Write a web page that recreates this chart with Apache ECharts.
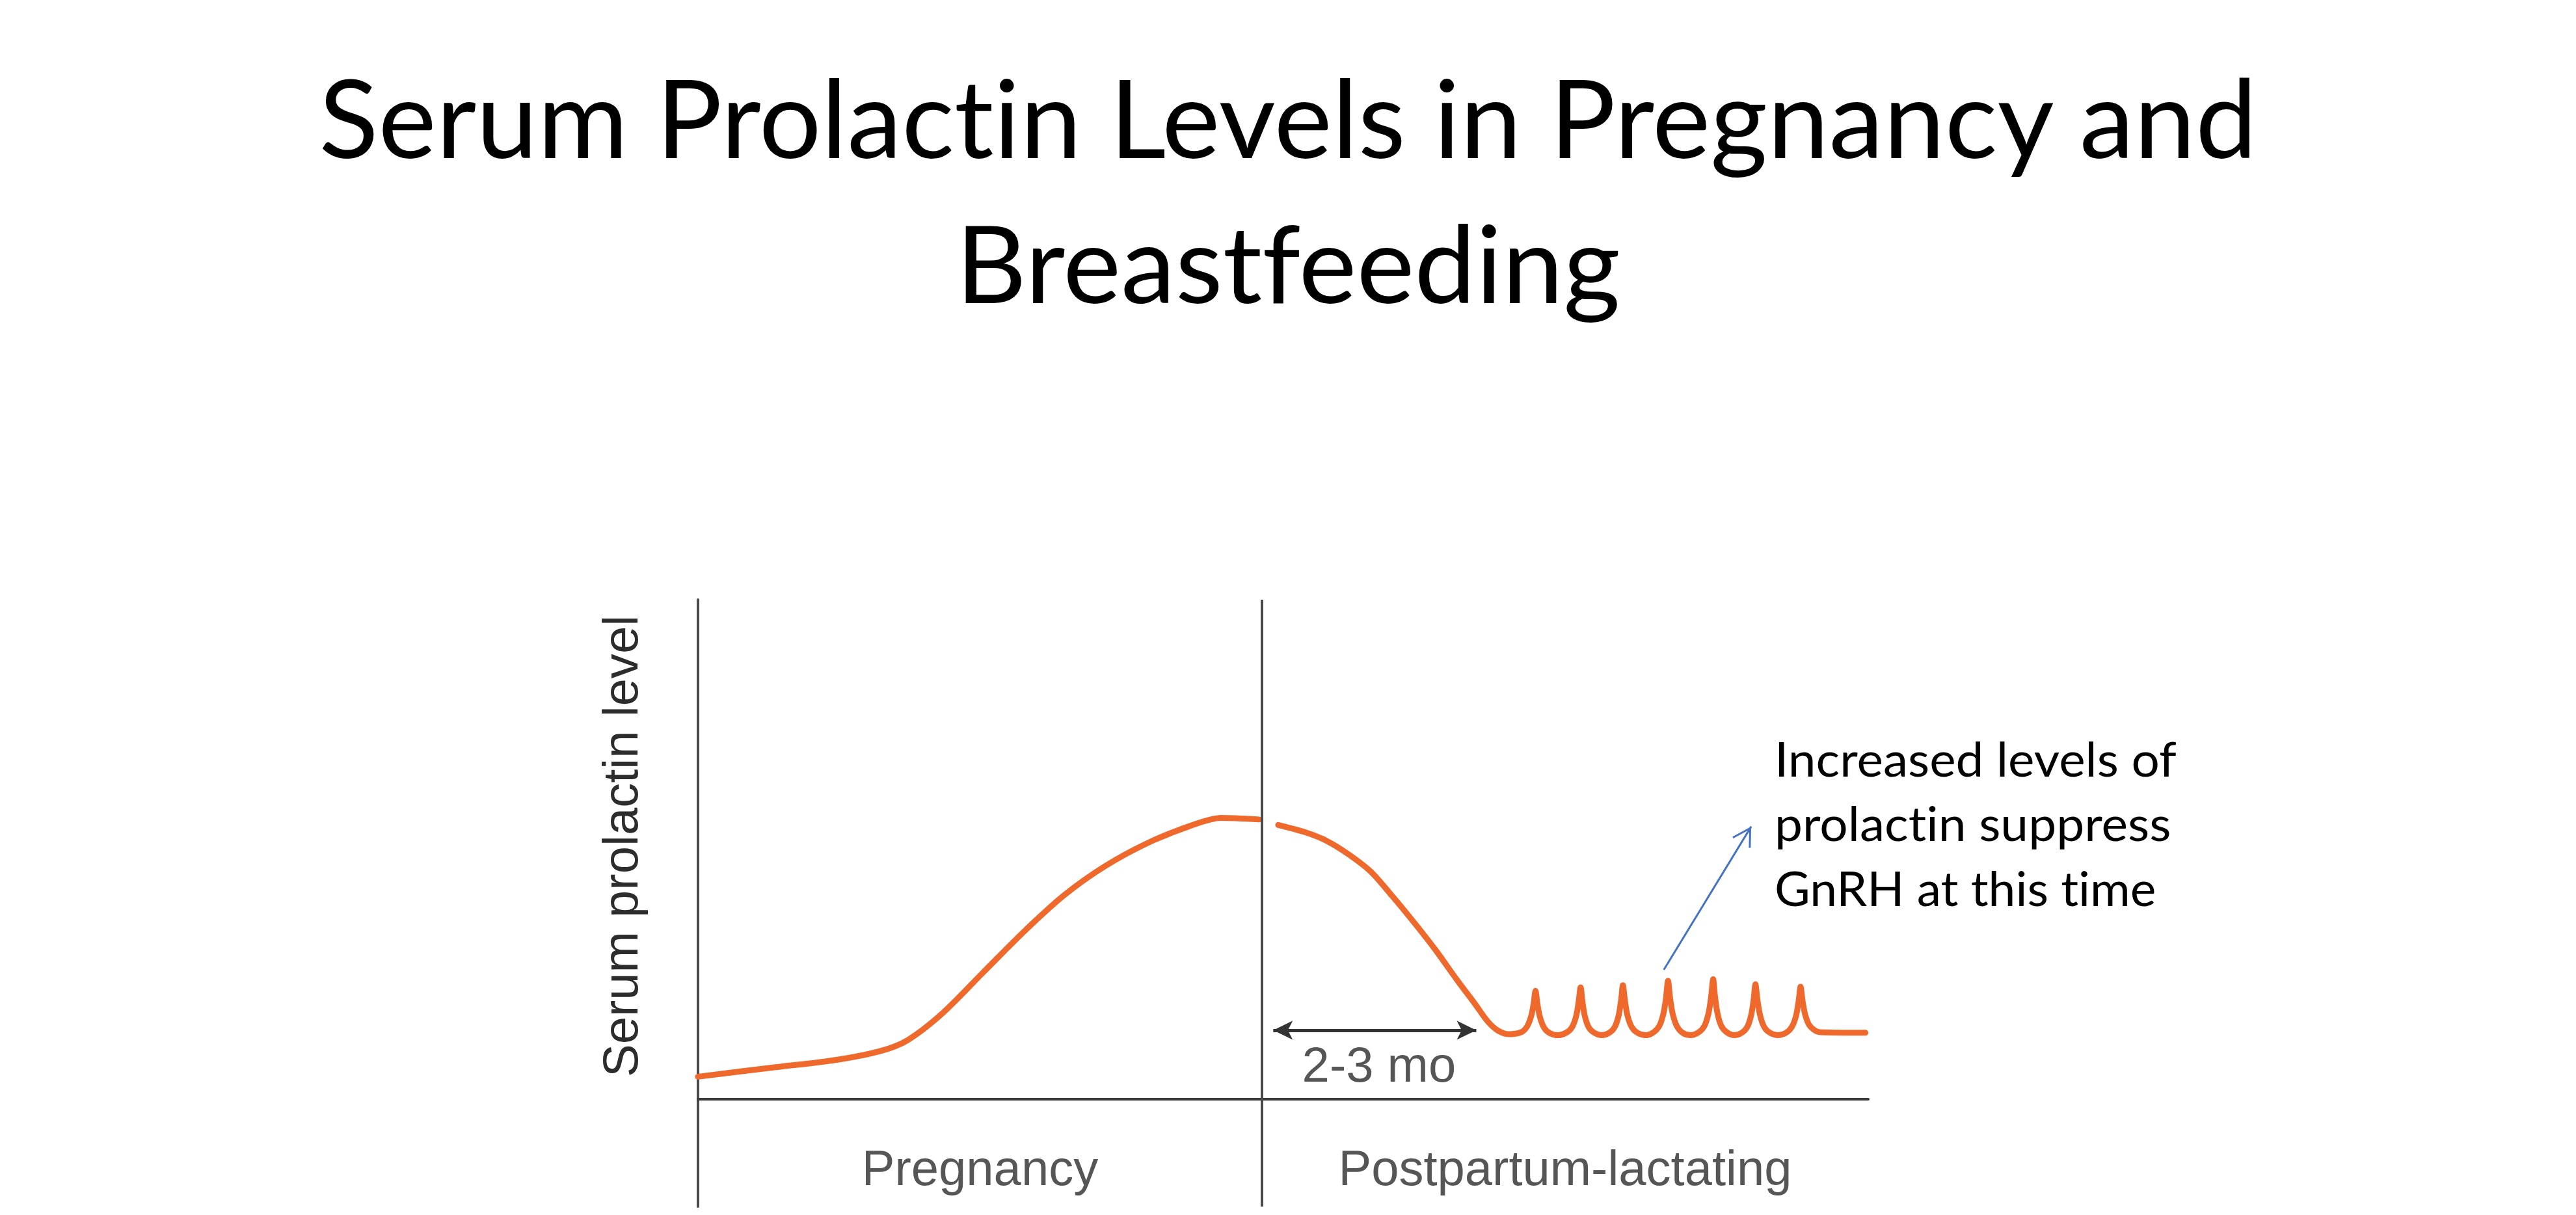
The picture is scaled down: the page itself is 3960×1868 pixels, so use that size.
<!DOCTYPE html>
<html><head><meta charset="utf-8">
<script src="https://cdn.jsdelivr.net/npm/echarts@6/dist/echarts.min.js"></script>
<style>
html,body{margin:0;padding:0;background:#fff}
#c{width:3960px;height:1868px}
#c text, #c tspan{font-variant-ligatures:none !important;font-feature-settings:"liga" 0,"clig" 0,"dlig" 0 !important}
</style>
</head><body><div id="c"></div>
<script>
// ---- text ----
const titleLines = ['Serum Prolactin Levels in Pregnancy and', 'Breastfeeding'];
const noteLines = ['Increased levels of', 'prolactin suppress', 'GnRH at this time'];
const yAxisTitle = 'Serum prolactin level';
const phaseLabels = ['Pregnancy', 'Postpartum-lactating'];
const phaseBounds = [0, 40, 83];          // weeks: start, delivery, end of plot
const intervalLabel = '2-3 mo';
const intervalLabelPos = [48.3, 6.9];
const intervalRange = [40.8, 55.2];       // weeks
const intervalLevel = 13.8;
const noteArrowFrom = [68.5, 25.9];
const noteArrowTo = [74.7, 54.6];

// ---- curves: [week] and [relative level] ----
const pregnancyX = [0, 5.5, 9.9, 12.9, 14.8, 17.3, 20.2, 23.1, 26.0, 28.9, 31.9, 34.8, 37.1, 39.8];
const pregnancyY = [4.5, 6.4, 7.9, 9.6, 11.7, 17.1, 25.3, 33.5, 40.9, 46.7, 51.3, 54.6, 56.3, 56.0];

const postpartumX = [41.15, 43.1, 44.6, 46.1, 47.7, 49.2, 50.75, 52.3, 53.85, 55.1, 56.0, 56.75, 57.5, 58.38, 58.79, 59.08, 59.26,
  59.4, 59.54, 59.72, 60.01, 60.42, 61.0, 61.58, 61.99, 62.28, 62.46,
  62.6, 62.73, 62.9, 63.17, 63.56, 64.1, 64.64, 65.03, 65.3, 65.47,
  65.6, 65.74, 65.92, 66.21, 66.62, 67.2, 67.78, 68.19, 68.48, 68.66,
  68.8, 68.94, 69.12, 69.41, 69.82, 70.4, 70.98, 71.39, 71.68, 71.86,
  72.0, 72.13, 72.3, 72.57, 72.96, 73.5, 74.04, 74.43, 74.7, 74.87,
  75.0, 75.14, 75.32, 75.61, 76.02, 76.6, 77.18, 77.59, 77.88, 78.06,
  78.2, 78.34, 78.52, 78.8, 79.2, 79.6, 82.8];
const postpartumY = [54.9, 53.4, 51.7, 49.1, 45.6, 40.8, 35.5, 29.9, 23.8, 19.1, 15.6, 13.7, 13.0, 13.4, 14.5, 16.5, 19.0,
  21.7, 19.0, 16.4, 14.3, 13.2, 12.8, 13.3, 14.4, 16.6, 19.5,
  22.4, 19.5, 16.6, 14.4, 13.3, 12.8, 13.3, 14.5, 16.8, 19.8,
  22.8, 19.8, 16.8, 14.5, 13.3, 12.8, 13.4, 14.7, 17.2, 20.4,
  23.7, 20.4, 17.2, 14.7, 13.3, 12.8, 13.4, 14.7, 17.3, 20.6,
  24.0, 20.6, 17.3, 14.7, 13.4, 12.8, 13.3, 14.5, 16.9, 19.9,
  23.0, 19.9, 16.9, 14.5, 13.3, 12.8, 13.3, 14.5, 16.7, 19.6,
  22.5, 19.7, 17.0, 14.9, 13.8, 13.4, 13.3];

// ---- helpers ----
const measureCtx = document.createElement('canvas').getContext('2d');
function fit(text, font, target) { measureCtx.font = font; return target / measureCtx.measureText(text).width; }

const TITLE_FONT = '166px Lato';
const NOTE_FONT = '74px Lato';
const FIG_FAMILY = '"Liberation Sans", Arial, sans-serif';
const FIG_FONT = '76px ' + FIG_FAMILY;
const ORANGE = '#F0692C';
const AXIS = '#4a4a4a';
const FIG_TEXT = '#2c2c2c';

function txt(text, x, y, font, fill, align, target, rot) {
  const s = target ? fit(text, font, target) : 1;
  return { type: 'text', x: x, y: y, scaleX: s, rotation: rot || 0, silent: true,
    style: { text: text, font: font, fill: fill, align: align, verticalAlign: 'middle',
             textAlign: align, textVerticalAlign: 'middle' } };
}

const graphic = [
  txt(titleLines[0], 1980, 179, TITLE_FONT, '#000', 'center', 2985),
  txt(titleLines[1], 1980, 402, TITLE_FONT, '#000', 'center', 1018),
  txt(noteLines[0], 2728, 1166, NOTE_FONT, '#000', 'left', 618),
  txt(noteLines[1], 2728, 1265, NOTE_FONT, '#000', 'left', 611),
  txt(noteLines[2], 2728, 1364, NOTE_FONT, '#000', 'left', 588),
  txt(yAxisTitle, 954, 1301, FIG_FONT, FIG_TEXT, 'center', 710, Math.PI / 2)
];

const phaseCenters = phaseLabels.map((_, i) => (phaseBounds[i] + phaseBounds[i + 1]) / 2);
const labelRow = -13.7;

const option = {
  animation: false,
  backgroundColor: '#fff',
  graphic: graphic,
  grid: { left: 1073, top: 922, width: 1799, height: 933, containLabel: false },
  xAxis: {
    type: 'value', min: phaseBounds[0], max: phaseBounds[2],
    axisLine: { show: true, onZero: true, lineStyle: { color: '#3a3a3a', width: 4 } },
    axisTick: { show: false }, axisLabel: { show: false }, splitLine: { show: false }
  },
  yAxis: {
    type: 'value', min: -21.5, max: 100,
    axisLine: { show: true, onZero: false, lineStyle: { color: AXIS, width: 4 } },
    axisTick: { show: false }, axisLabel: { show: false }, splitLine: { show: false }
  },
  series: [
    {
      type: 'line', name: 'Pregnancy', silent: true, showSymbol: false, symbol: 'none', smooth: 0.3,
      data: pregnancyX.map((x, i) => [x, pregnancyY[i]]),
      lineStyle: { color: ORANGE, width: 9, cap: 'round' },
      markLine: {
        silent: true, symbol: 'none', label: { show: false },
        lineStyle: { color: AXIS, width: 4, type: 'solid' },
        data: [{ xAxis: phaseBounds[1] }]
      }
    },
    {
      type: 'line', name: 'Postpartum', silent: true, showSymbol: false, symbol: 'none', smooth: 0.3,
      data: postpartumX.map((x, i) => [x, postpartumY[i]]),
      lineStyle: { color: ORANGE, width: 9, cap: 'round', join: 'round' },
      markLine: {
        silent: true, label: { show: false },
        data: [
          [ { coord: [intervalRange[0], intervalLevel], symbol: 'arrow', symbolSize: [22, 30],
              lineStyle: { color: '#333', width: 5, type: 'solid' } },
            { coord: [intervalRange[1], intervalLevel], symbol: 'arrow', symbolSize: [22, 30] } ],
          [ { coord: noteArrowFrom, symbol: 'none',
              lineStyle: { color: '#4472C4', width: 3, type: 'solid' } },
            { coord: noteArrowTo, symbol: 'path://M50,0 L100,86.6 L92.2,91.1 L50,18 L7.8,91.1 L0,86.6 Z M50,-91.1 L50.01,-91.1 L50,-91.05 Z',
              symbolSize: [33, 60] } ]
        ]
      }
    },
    {
      type: 'scatter', silent: true, clip: false, symbolSize: 1,
      itemStyle: { color: 'rgba(0,0,0,0)' },
      data: phaseLabels.map((t, i) => ({ name: t, value: [phaseCenters[i], labelRow] }))
        .concat([{ name: intervalLabel, value: intervalLabelPos }]),
      label: { show: true, position: 'inside', formatter: '{b}', fontSize: 76,
               fontFamily: FIG_FAMILY, color: FIG_TEXT }
    }
  ]
};

const chart = echarts.init(document.getElementById('c'), null, { renderer: 'svg' });
chart.setOption(option);
</script>
</body></html>
